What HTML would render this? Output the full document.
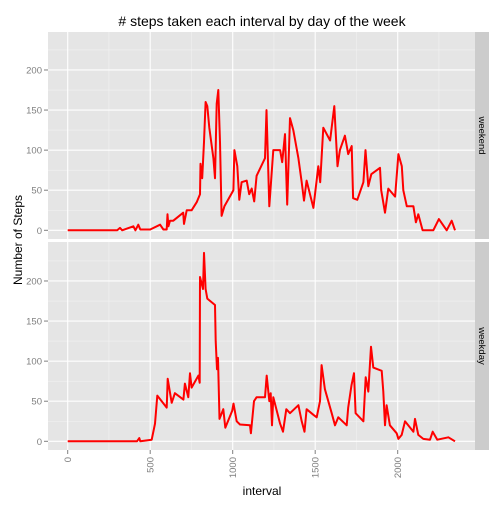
<!DOCTYPE html>
<html><head><meta charset="utf-8"><style>
body{margin:0;background:#fff}
svg text{font-family:"Liberation Sans",sans-serif}
</style></head><body>
<svg id="c" width="504" height="504" xmlns="http://www.w3.org/2000/svg">
<text x="262" y="26" font-size="14" text-anchor="middle"># steps taken each interval by day of the week</text>
<text transform="translate(22,240) rotate(-90)" font-size="12" text-anchor="middle">Number of Steps</text>
<text x="262" y="495" font-size="12" text-anchor="middle">interval</text>
</svg>
<script>
const weekendX=[0,300,317,330,398,410,428,440,500,560,580,600,605,610,620,640,700,705,721,751,782,802,805,815,826,836,846,858,883,893,903,913,923,933,950,1004,1010,1028,1040,1054,1085,1100,1115,1130,1145,1196,1205,1222,1246,1287,1300,1317,1330,1347,1367,1398,1418,1432,1448,1489,1519,1530,1549,1590,1616,1635,1650,1680,1700,1721,1730,1755,1792,1805,1822,1840,1893,1900,1923,1943,1984,2004,2025,2034,2055,2095,2110,2125,2151,2216,2250,2297,2327,2347];
const weekendY=[0,0,3,0,5,0,7,1,1,7,1,1,20,5,12,12,22,8,25,25,35,45,83,65,110,160,155,128,90,65,158,175,110,18,30,50,100,80,38,60,62,45,52,36,68,90,150,30,100,100,85,120,32,140,125,90,60,37,62,28,80,60,128,112,155,80,100,118,95,105,40,38,60,100,55,70,78,50,22,52,42,95,80,50,30,30,10,20,0,0,14,0,12,0];
const weekdayX=[0,420,434,440,509,529,543,600,606,630,650,701,710,731,741,751,792,800,802,820,826,836,846,893,897,905,911,920,943,955,997,1005,1024,1044,1105,1110,1129,1145,1196,1206,1222,1230,1238,1246,1287,1305,1325,1347,1398,1418,1435,1448,1489,1509,1529,1539,1559,1600,1620,1640,1691,1700,1720,1735,1745,1792,1806,1822,1838,1852,1903,1913,1923,1933,1953,1994,2004,2024,2044,2095,2105,2125,2155,2196,2212,2240,2307,2347];
const weekdayY=[0,0,4,0,2,22,57,42,78,48,60,52,72,55,85,67,82,73,205,190,235,190,178,170,125,90,104,28,40,17,38,47,25,21,20,10,50,55,55,82,50,60,20,55,22,12,40,35,45,25,12,40,33,30,50,95,65,35,20,30,20,42,70,85,35,25,80,62,118,92,88,62,20,45,20,10,3,8,25,12,28,8,3,2,12,2,5,0];
const yTicks=[0,50,100,150,200];
const xTicks=[0,500,1000,1500,2000];
const xTickLabels=["0","500","1000","1500","2000"];
const yTickLabels=["0","50","100","150","200"];
const panels=[{name:"weekend",x:weekendX,y:weekendY,top:32,bottom:239},{name:"weekday",x:weekdayX,y:weekdayY,top:242,bottom:450}];
const L=48,R=475;
const sx=v=>67.7+v*0.165;
const NS="http://www.w3.org/2000/svg";
const svg=document.getElementById('c');
function mk(t,a,txt){const e=document.createElementNS(NS,t);for(const k in a)e.setAttribute(k,a[k]);if(txt!==undefined)e.textContent=txt;svg.appendChild(e);return e;}
panels.forEach(p=>{
  const sy=v=>p.bottom-8.7-v*0.8016;
  const bg=mk('rect',{x:L,y:p.top,width:R-L,height:p.bottom-p.top,fill:'#e5e5e5'});
  
  
  [25,75,125,175,225].forEach(v=>mk('line',{x1:L,x2:R,y1:sy(v),y2:sy(v),stroke:'#f2f2f2','stroke-width':0.6}));
  [-250,250,750,1250,1750,2250].forEach(v=>{if(sx(v)>L)mk('line',{x1:sx(v),x2:sx(v),y1:p.top,y2:p.bottom,stroke:'#f2f2f2','stroke-width':0.6});});
  yTicks.forEach((v,i)=>{
    mk('line',{x1:L,x2:R,y1:sy(v),y2:sy(v),stroke:'#fff','stroke-width':1.1});
    mk('line',{x1:44,x2:48,y1:sy(v),y2:sy(v),stroke:'#7f7f7f','stroke-width':1});
    const t=mk('text',{x:42,y:sy(v)+3.5,'font-size':9.5,'text-anchor':'end',fill:'#7f7f7f'},yTickLabels[i]);
    
    
  });
  xTicks.forEach(v=>mk('line',{x1:sx(v),x2:sx(v),y1:p.top,y2:p.bottom,stroke:'#fff','stroke-width':1.1}));
  const pts=p.x.map((x,i)=>sx(x).toFixed(1)+','+sy(p.y[i]).toFixed(1)).join(' ');
  const ln=mk('polyline',{points:pts,fill:'none',stroke:'#ff0000','stroke-width':2,'stroke-linejoin':'round'});
  
  
  const st=mk('rect',{x:R,y:p.top,width:14,height:p.bottom-p.top,fill:'#cccccc'});
  
  
  const cy=(p.top+p.bottom)/2;
  const lt=mk('text',{transform:`translate(${R+4},${cy}) rotate(90)`,'font-size':9.5,'text-anchor':'middle'},p.name);
  
  
});
xTicks.forEach((v,i)=>{
  mk('line',{x1:sx(v),x2:sx(v),y1:450,y2:454,stroke:'#7f7f7f','stroke-width':1});
  const t=mk('text',{transform:`translate(${sx(v)+3.5},457) rotate(-90)`,'font-size':9.5,'text-anchor':'end',fill:'#7f7f7f'},xTickLabels[i]);
  
  
});
</script>
</body></html>
